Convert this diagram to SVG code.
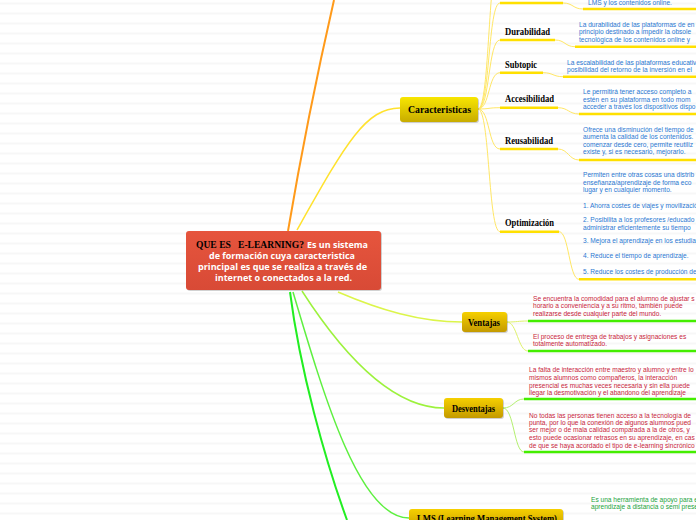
<svg xmlns="http://www.w3.org/2000/svg" width="696" height="520" viewBox="0 0 696 520">
<defs>
<pattern id="grid" width="696" height="10" patternUnits="userSpaceOnUse" y="-0.5">
<rect x="0" y="3.5" width="696" height="1" fill="#efefef"/>
</pattern>
<linearGradient id="gRed" x1="0" y1="0" x2="0" y2="1">
<stop offset="0" stop-color="#e6553d"/><stop offset="1" stop-color="#d84a36"/>
</linearGradient>
<linearGradient id="gYel" x1="0" y1="0" x2="0" y2="1">
<stop offset="0" stop-color="#f8e600"/><stop offset="1" stop-color="#c8ac00"/>
</linearGradient>
<linearGradient id="gGold" x1="0" y1="0" x2="0" y2="1">
<stop offset="0" stop-color="#f6d000"/><stop offset="1" stop-color="#c49a00"/>
</linearGradient>
<style>
.lbl{font-family:"Liberation Serif","Times New Roman",serif;font-weight:bold;font-size:10px;fill:#000}
.ctr{font-family:"Open Sans","Liberation Sans",sans-serif;font-weight:bold;font-size:8.4px;fill:#fff}
.d{font-family:"Liberation Sans",Arial,sans-serif;font-size:6.6px}
.blue{fill:#2a78d2}.red{fill:#c81e3c}.grn{fill:#19a33c}
.yl{stroke:#ffe000;stroke-width:2.5;fill:none}
.gl{stroke:#44ee00;stroke-width:2.5;fill:none}
.cy{stroke:#ffe766;stroke-width:1;fill:none}
.cyg{stroke:#dff26a;stroke-width:1;fill:none}
.cg{stroke:#b4f070;stroke-width:1;fill:none}
.sh{fill:#000;opacity:0.18}
</style>
</defs>
<rect width="696" height="520" fill="#ffffff"/>
<rect width="696" height="520" fill="url(#grid)"/>

<g id="connectors">
<path d="M288,231 C300,160 318,70 334,0" stroke="#ff9a1a" stroke-width="2" fill="none"/>
<path d="M297,230 C345,145 365,108 400,108" stroke="#ffe22e" stroke-width="1.5" fill="none"/>
<path d="M338,292 C380,310 420,322 462,322" stroke="#dcf54a" stroke-width="1.5" fill="none"/>
<path d="M302,291 C340,350 390,408 444,408" stroke="#9cf23c" stroke-width="1.5" fill="none"/>
<path d="M293,292 C325,400 360,518 409,518" stroke="#5ef040" stroke-width="1.5" fill="none"/>
<path d="M290,292 C300,370 325,460 347,520" stroke="#22ee22" stroke-width="2" fill="none"/>
<path class="cy" d="M478,109 C490,109 488,-45 500,-45"/>
<path class="cy" d="M478,109 C490,109 488,3 500,3"/>
<path class="cy" d="M478,109 C490,109 488,40 500,40"/>
<path class="cy" d="M478,109 C490,109 488,72.7 500,72.7"/>
<path class="cy" d="M478,109 C490,109 488,107.7 500,107.7"/>
<path class="cy" d="M478,109 C490,109 488,149 500,149"/>
<path class="cy" d="M478,109 C490,109 488,231.7 500,231.7"/>
<path class="cy" d="M563,3 C573,3 573,9 583,9"/>
<path class="cy" d="M555,40 C565,40 565,46.7 575,46.7"/>
<path class="cy" d="M543,72.7 C553,72.7 553,76.7 563,76.7"/>
<path class="cy" d="M558,107.7 C568,107.7 569,114 579,114"/>
<path class="cy" d="M558,149 C568,149 569,160 579,160"/>
<path class="cy" d="M559,231.7 C569,231.7 569,279.3 579,279.3"/>
<path class="cyg" d="M507,322 C517,322 518,321 528,321"/>
<path class="cyg" d="M507,322 C517,322 518,351 528,351"/>
<path class="cg" d="M503,408 C514,408 514,399 524,399"/>
<path class="cg" d="M503,408 C514,408 514,452 524,452"/>
</g>

<g id="center">
<rect class="sh" x="187" y="232" width="195" height="59" rx="3"/>
<rect x="186" y="231" width="195" height="59" rx="3" fill="url(#gRed)"/>
<text class="lbl" x="196" y="248" font-size="10.5" textLength="108" lengthAdjust="spacingAndGlyphs" style="white-space:pre">QUE ES   E-LEARNING?</text>
<text class="ctr" x="307" y="248" textLength="61" lengthAdjust="spacingAndGlyphs">Es un sistema</text>
<text class="ctr" x="209" y="259" textLength="146" lengthAdjust="spacingAndGlyphs">de formación cuya caracteristica</text>
<text class="ctr" x="198" y="270" textLength="169" lengthAdjust="spacingAndGlyphs">principal es que se realiza a través de</text>
<text class="ctr" x="215" y="281" textLength="137" lengthAdjust="spacingAndGlyphs">internet o conectados a la red.</text>
</g>

<g id="caracteristicas">
<rect class="sh" x="401" y="98" width="78" height="25" rx="3"/>
<rect x="400" y="97" width="78" height="25" rx="3" fill="url(#gYel)"/>
<text class="lbl" x="408" y="113" textLength="63" lengthAdjust="spacingAndGlyphs">Caracteristicas</text>
</g>

<g id="topitem">
<line class="yl" x1="500" y1="3" x2="563" y2="3"/>
<line class="yl" x1="583" y1="9" x2="696" y2="9"/>
<text class="d blue" x="588" y="4.5">LMS y los contenidos online.</text>
</g>

<g id="durabilidad">
<text class="lbl" x="505" y="35" textLength="45" lengthAdjust="spacingAndGlyphs">Durabilidad</text>
<line class="yl" x1="500" y1="40" x2="555" y2="40"/>
<line class="yl" x1="575" y1="46.7" x2="696" y2="46.7"/>
<text class="d blue" x="579" y="27">La durabilidad de las plataformas de en</text>
<text class="d blue" x="579" y="34.3">principio destinado a impedir la obsole</text>
<text class="d blue" x="579" y="41.5">tecnológica de los contenidos online y</text>
</g>

<g id="subtopic">
<text class="lbl" x="505" y="68" textLength="32" lengthAdjust="spacingAndGlyphs">Subtopic</text>
<line class="yl" x1="500" y1="72.7" x2="543" y2="72.7"/>
<line class="yl" x1="563" y1="76.7" x2="696" y2="76.7"/>
<text class="d blue" x="567" y="64.5">La escalabilidad de las plataformas educativ</text>
<text class="d blue" x="567" y="72">posibilidad del retorno de la inversión en el</text>
</g>

<g id="accesibilidad">
<text class="lbl" x="505" y="101.5" textLength="49" lengthAdjust="spacingAndGlyphs">Accesibilidad</text>
<line class="yl" x1="500" y1="107.7" x2="558" y2="107.7"/>
<line class="yl" x1="579" y1="114" x2="696" y2="114"/>
<text class="d blue" x="583" y="94">Le permitirá tener acceso completo a</text>
<text class="d blue" x="583" y="101.5">estén en su plataforma en todo mom</text>
<text class="d blue" x="583" y="109">acceder a través los dispositivos dispo</text>
</g>

<g id="reusabilidad">
<text class="lbl" x="505" y="143.5" textLength="48" lengthAdjust="spacingAndGlyphs">Reusabilidad</text>
<line class="yl" x1="500" y1="149" x2="558" y2="149"/>
<line class="yl" x1="579" y1="160" x2="696" y2="160"/>
<text class="d blue" x="583" y="131.5">Ofrece una disminución del tiempo de</text>
<text class="d blue" x="583" y="139">aumenta la calidad de los contenidos.</text>
<text class="d blue" x="583" y="146.5">comenzar desde cero, permite reutiliz</text>
<text class="d blue" x="583" y="154">existe y, si es necesario, mejorarlo.</text>
</g>

<g id="optimizacion">
<text class="lbl" x="505" y="226" textLength="49" lengthAdjust="spacingAndGlyphs">Optimización</text>
<line class="yl" x1="500" y1="231.7" x2="559" y2="231.7"/>
<line class="yl" x1="579" y1="279.3" x2="696" y2="279.3"/>
<text class="d blue" x="583" y="177">Permiten entre otras cosas una distrib</text>
<text class="d blue" x="583" y="184.5">enseñanza/aprendizaje de forma eco</text>
<text class="d blue" x="583" y="192">lugar y en cualquier momento.</text>
<text class="d blue" x="583" y="208">1. Ahorra costes de viajes y movilizació</text>
<text class="d blue" x="583" y="221.5">2. Posibilita a los profesores /educado</text>
<text class="d blue" x="583" y="229.5">administrar eficientemente su tiempo</text>
<text class="d blue" x="583" y="243">3. Mejora el aprendizaje en los estudia</text>
<text class="d blue" x="583" y="258">4. Reduce el tiempo de aprendizaje.</text>
<text class="d blue" x="583" y="274">5. Reduce los costes de producción de</text>
</g>

<g id="ventajas">
<rect class="sh" x="463" y="313" width="45" height="20" rx="3"/>
<rect x="462" y="312" width="45" height="20" rx="3" fill="url(#gGold)"/>
<text class="lbl" x="468" y="326" textLength="32" lengthAdjust="spacingAndGlyphs">Ventajas</text>
<line class="gl" x1="528" y1="321" x2="696" y2="321"/>
<line class="gl" x1="528" y1="351" x2="696" y2="351"/>
<text class="d red" x="533" y="300.5">Se encuentra la comodidad para el alumno de ajustar s</text>
<text class="d red" x="533" y="308">horario a conveniencia y a su ritmo, también puede</text>
<text class="d red" x="533" y="315.5">realizarse desde cualquier parte del mundo.</text>
<text class="d red" x="533" y="338.5">El proceso de entrega de trabajos y asignaciones es</text>
<text class="d red" x="533" y="346">totalmente automatizado.</text>
</g>

<g id="desventajas">
<rect class="sh" x="445" y="399" width="59" height="20" rx="3"/>
<rect x="444" y="398" width="59" height="20" rx="3" fill="url(#gGold)"/>
<text class="lbl" x="452" y="412" textLength="43" lengthAdjust="spacingAndGlyphs">Desventajas</text>
<line class="gl" x1="524" y1="399" x2="696" y2="399"/>
<line class="gl" x1="524" y1="452" x2="696" y2="452"/>
<text class="d red" x="529" y="372">La falta de interacción entre maestro y alumno y entre lo</text>
<text class="d red" x="529" y="380">mismos alumnos como compañeros, la interacción</text>
<text class="d red" x="529" y="387.5">presencial es muchas veces necesaria y sin ella puede</text>
<text class="d red" x="529" y="395">llegar la desmotivación y el abandono del aprendizaje</text>
<text class="d red" x="529" y="417.5">No todas las personas tienen acceso a la tecnología de</text>
<text class="d red" x="529" y="424.5">punta, por lo que la conexión de algunos alumnos pued</text>
<text class="d red" x="529" y="432">ser mejor o de mala calidad comparada a la de otros, y</text>
<text class="d red" x="529" y="440">esto puede ocasionar retrasos en su aprendizaje, en cas</text>
<text class="d red" x="529" y="447.5">de que se haya acordado el tipo de e-learning sincrónico</text>
</g>

<g id="lms">
<rect class="sh" x="410" y="510" width="154" height="22" rx="3"/>
<rect x="409" y="509" width="154" height="22" rx="3" fill="url(#gGold)"/>
<text class="lbl" x="417" y="522" textLength="140" lengthAdjust="spacingAndGlyphs">LMS (Learning Management System)</text>
<text class="d grn" x="591" y="501.5">Es una herramienta de apoyo para e</text>
<text class="d grn" x="591" y="509">aprendizaje a distancia o semi prese</text>
</g>
</svg>
